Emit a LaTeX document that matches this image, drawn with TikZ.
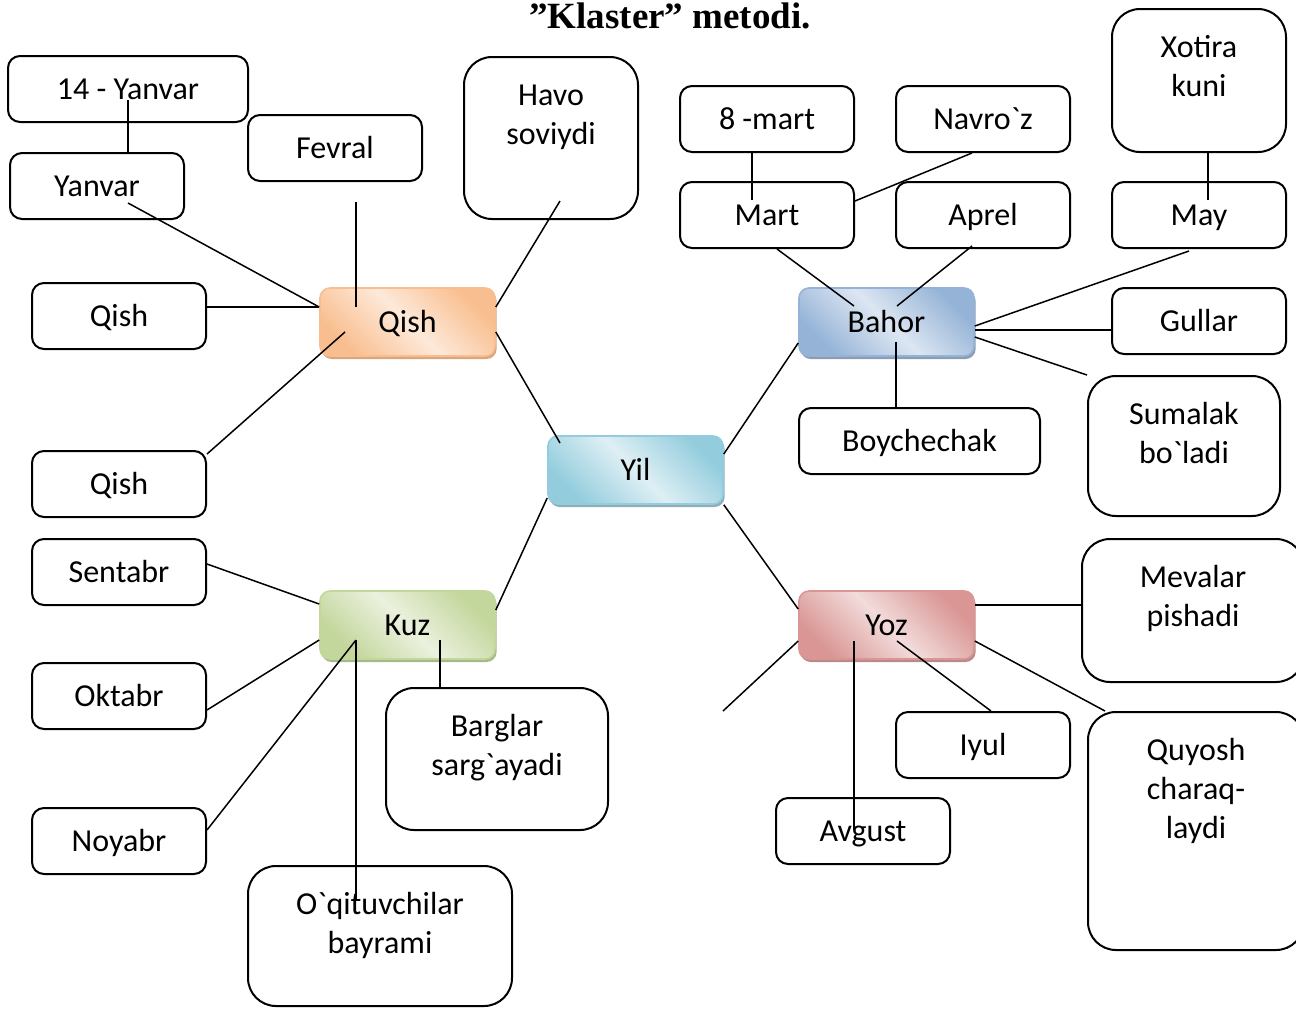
\documentclass[tikz,border=0pt]{standalone}
\usepackage{fontspec}
\setmainfont{Carlito}[Ligatures=TeXOff]
\newfontfamily\titlefont{Liberation Serif}
\usetikzlibrary{calc,shadows}
\definecolor{qishdark}{HTML}{F9BE8F}
\definecolor{qishlight}{HTML}{FDE9D9}
\definecolor{qishshade}{HTML}{D9A67E}
\definecolor{yildark}{HTML}{93CDDD}
\definecolor{yillight}{HTML}{DEEFF4}
\definecolor{yilshade}{HTML}{8FAEB8}
\definecolor{bahordark}{HTML}{95B3D7}
\definecolor{bahorlight}{HTML}{DCE6F2}
\definecolor{bahorshade}{HTML}{8C9DB3}
\definecolor{kuzdark}{HTML}{C3D69B}
\definecolor{kuzlight}{HTML}{EBF1DE}
\definecolor{kuzshade}{HTML}{A7B88A}
\definecolor{yozdark}{HTML}{D99694}
\definecolor{yozlight}{HTML}{F2DCDB}
\definecolor{yozshade}{HTML}{B98A89}
\newcommand{\toptext}[3]{\parbox[c][#2][t]{#1}{\centering\rule{0pt}{24pt}#3}}
\tikzset{
  box/.style={draw=black, line width=1pt, rounded corners=6pt, minimum width=87pt,
    minimum height=33pt, inner sep=0pt, text height=11pt, text depth=1pt,
    font=\fontsize{16}{19.5}\selectfont},
  tall/.style={box, rounded corners=14pt, text height=, text depth=},
  hub/.style={draw=#1dark, line width=0.8pt, rounded corners=5pt, minimum width=87.5pt,
    minimum height=34pt, inner sep=0pt, text height=11pt, text depth=1pt,
    font=\fontsize{16}{19.5}\selectfont,
    left color=#1dark, right color=#1dark, middle color=#1light, shading angle=135,
    drop shadow={shadow xshift=0.8pt, shadow yshift=-1.5pt, fill=#1shade, opacity=1}},
  link/.style={draw=black, line width=0.75pt},
}
\begin{document}
\begin{tikzpicture}[x=0.5pt, y=-0.5pt]
  \useasboundingbox (0,0) rectangle (1296,1008);

  \node[anchor=base, font=\titlefont\bfseries\fontsize{18.5}{22}\selectfont] (title) at (670,28) {”Klaster” metodi.};

  % centre and the four seasons
  \node[hub=yil] (yil) at (635.5,470) {Yil};
  \node[hub=qish] (qish) at (407.5,322) {Qish};
  \node[hub=bahor] (bahor) at (886.5,322) {Bahor};
  \node[hub=kuz] (kuz) at (407.5,625) {Kuz};
  \node[hub=yoz] (yoz) at (886.5,625) {Yoz};

  % winter
  \node[box, minimum width=120pt] (jan14) at (128,89) {14 - Yanvar};
  \node[box] (yanvar) at (97,186) {Yanvar};
  \node[box] (fevral) at (335,148) {Fevral};
  \node[tall] (havo) at (551,138) {\toptext{87pt}{81pt}{Havo\\soviydi}};
  \node[box] (qishA) at (119,316) {Qish};
  \node[box] (qishB) at (119,484) {Qish};

  % autumn
  \node[box] (sentabr) at (119,572) {Sentabr};
  \node[box] (oktabr) at (119,696) {Oktabr};
  \node[box] (noyabr) at (119,841) {Noyabr};
  \node[tall] (barglar) at (497,759) {\toptext{111pt}{71pt}{Barglar\\sarg`ayadi}};
  \node[tall] (oqit) at (380,936) {\toptext{132pt}{70pt}{O`qituvchilar\\bayrami}};

  % spring
  \node[box] (mart8) at (767,119) {8 -mart};
  \node[box] (navroz) at (983,119) {Navro`z};
  \node[tall] (xotira) at (1199,80.5) {\toptext{87pt}{71.5pt}{Xotira\\kuni}};
  \node[box] (mart) at (767,215) {Mart};
  \node[box] (aprel) at (983,215) {Aprel};
  \node[box] (may) at (1199,215) {May};
  \node[box] (gullar) at (1199,321) {Gullar};
  \node[tall] (sumalak) at (1184,446) {\toptext{96pt}{70pt}{Sumalak\\bo`ladi}};
  \node[box, minimum width=120.5pt] (boychechak) at (919.5,441) {Boychechak};

  % summer
  \node[tall] (mevalar) at (1193,610.5) {\toptext{111pt}{71.5pt}{Mevalar\\pishadi}};
  \node[box] (iyul) at (983,745) {Iyul};
  \node[box] (avgust) at (863,831) {Avgust};
  \node[tall] (quyosh) at (1196,831) {\toptext{108pt}{119pt}{Quyosh\\charaq-\\laydi}};
  \coordinate (loose) at (723,711);

  % connectors
  \draw[link] ($(jan14)+(0,11)$) -- (jan14 |- yanvar.north);
  \draw[link] ($(yanvar)+(31,17)$) -- ($(qish.west)+(0,-15)$);
  \draw[link] ($(fevral.south)+(21,20)$) -- ($(qish)+(-51.5,-15)$);
  \draw[link] ($(havo)+(9,63)$) -- ($(qish.east)+(0,-15)$);
  \draw[link] ($(qishA.east)+(0,-9)$) -- ($(qish.west)+(0,-15)$);
  \draw[link] ($(qishB.east)+(0,-30)$) -- ($(qish)+(-62.5,10)$);
  \draw[link] ($(qish.east)+(0,10)$) -- ($(yil)+(-75.5,-27)$);
  \draw[link] ($(yil.east)+(0,-16)$) -- ($(bahor.west)+(0,21)$);
  \draw[link] ($(yil.west)+(0,28)$) -- ($(kuz.east)+(0,-15)$);
  \draw[link] (yil.south east) -- ($(yoz.west)+(0,-16)$);

  \draw[link] ($(sentabr.east)+(0,-8)$) -- ($(kuz.west)+(0,-21)$);
  \draw[link] ($(oktabr.east)+(0,14)$) -- ($(kuz.west)+(0,15)$);
  \draw[link] ($(noyabr.east)+(0,-11)$) -- ($(kuz)+(-51.5,15)$);
  \draw[link] ($(kuz)+(-51.5,15)$) -- ($(oqit)+(-24,-36)$);
  \draw[link] ($(kuz)+(32.5,15)$) -- ($(barglar.north)+(-57,0)$);

  \draw[link] ($(yoz.west)+(0,16)$) -- (loose);
  \draw[link] ($(yoz)+(-32.5,16)$) -- ($(avgust)+(-9,-1)$);
  \draw[link] ($(yoz)+(10.5,16)$) -- ($(iyul.north)+(8,0)$);
  \draw[link] ($(yoz.east)+(0,16)$) -- ($(quyosh.north west)+(18,0)$);
  \draw[link] ($(yoz.east)+(0,-20)$) -- ($(mevalar.west)+(0,-5.5)$);

  \draw[link] ($(mart.south)+(10,0)$) -- ($(bahor)+(-32.5,-16)$);
  \draw[link] ($(aprel.south)+(-11,-3)$) -- ($(bahor)+(10.5,-16)$);
  \draw[link] ($(may.south)+(-10,2)$) -- ($(bahor.east)+(0,4)$);
  \draw[link] ($(bahor.east)+(0,8)$) -- ($(gullar.west)+(0,9)$);
  \draw[link] ($(bahor.east)+(0,15)$) -- (sumalak.north west);
  \draw[link] ($(bahor)+(9.5,20)$) -- ($(boychechak.north)+(-23.5,0)$);
  \draw[link] ($(mart8.south)+(-15,0)$) -- ($(mart)+(-15,-15)$);
  \draw[link] ($(navroz.south)+(-11,0)$) -- ($(mart.east)+(0,-14)$);
  \draw[link] ($(xotira.south)+(9,0)$) -- ($(may)+(9,-15)$);
\end{tikzpicture}
\end{document}
